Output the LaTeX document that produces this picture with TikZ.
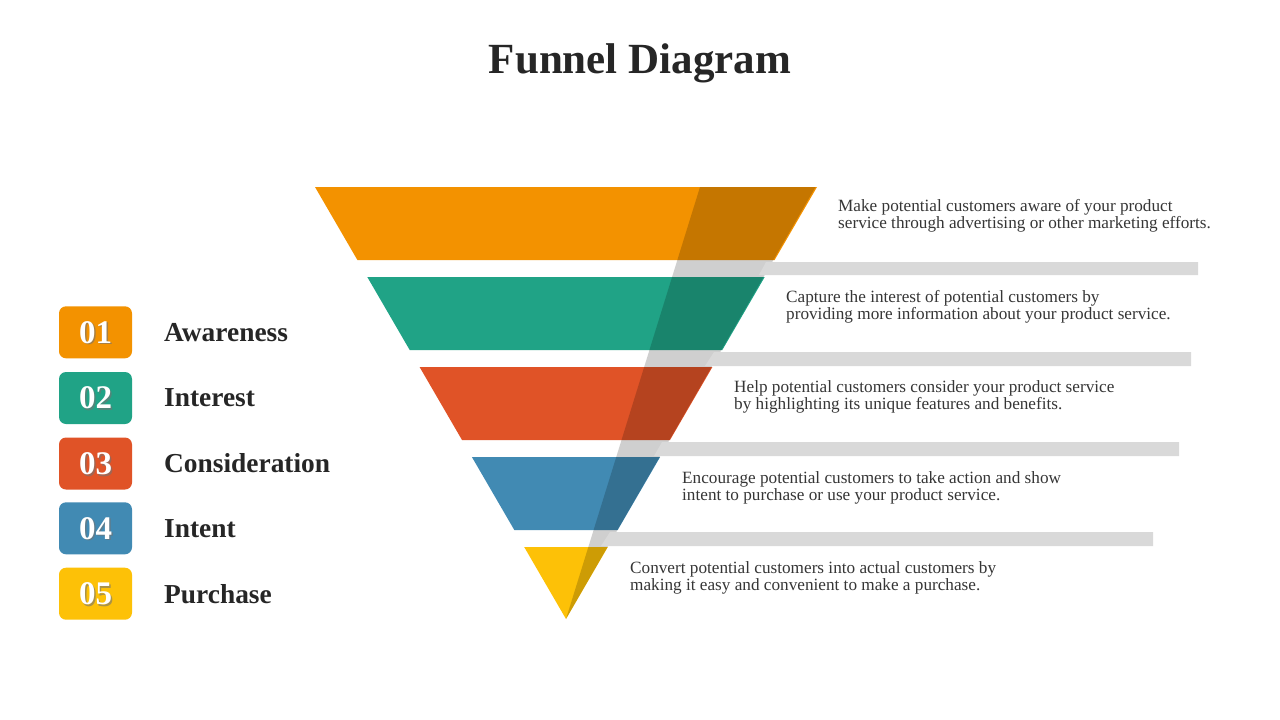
\documentclass[tikz,border=0pt]{standalone}
\usepackage{fontspec}
\setmainfont{Liberation Serif}
\usetikzlibrary{calc}
\definecolor{cOrange}{HTML}{F39200}
\definecolor{cTeal}{HTML}{20A386}
\definecolor{cRed}{HTML}{E05327}
\definecolor{cBlue}{HTML}{418AB3}
\definecolor{cYellow}{HTML}{FDC107}
\definecolor{cBar}{HTML}{D9D9D9}
\definecolor{cText}{HTML}{262626}
\definecolor{cDesc}{HTML}{363636}
\tikzset{
  badge/.style={rounded corners=7pt, minimum width=73pt, minimum height=52pt, inner sep=0pt},
  numtxt/.style={text=white, font=\fontsize{33}{33}\selectfont\bfseries, inner sep=0pt},
  numshadow/.style={text=black!55, font=\fontsize{33}{33}\selectfont\bfseries, inner sep=0pt, opacity=0.6},
  label/.style={anchor=west, text=cText, font=\fontsize{27.4}{27.4}\selectfont\bfseries, inner sep=0pt},
  desc/.style={anchor=west, align=left, text=cDesc, font=\fontsize{17.2}{17}\selectfont, inner sep=0pt},
  bar/.style={fill=cBar},
  overlay/.style={fill=black, fill opacity=0.19}
}
\begin{document}
\begin{tikzpicture}[x=1pt,y=-1pt]
\useasboundingbox (0,0) rectangle (1280,720);
\fill[white] (0,0) rectangle (1280,720);
% title
\node[text=cText, font=\fontsize{43}{43}\selectfont\bfseries] (title) at (640,63.5) {Funnel Diagram};
% funnel bands
\fill[cOrange] (315,187) -- (817,187) -- (774.6,260) -- (357.4,260) -- cycle;
\fill[cTeal] (367.3,277) -- (764.7,277) -- (722.3,350) -- (409.7,350) -- cycle;
\fill[cRed] (419.6,367) -- (712.4,367) -- (670.0,440) -- (462.0,440) -- cycle;
\fill[cBlue] (471.9,457) -- (660.1,457) -- (617.7,530) -- (514.3,530) -- cycle;
\fill[cYellow] (524.2,547) -- (607.8,547) -- (566,619) -- cycle;
% dark translucent strip
\fill[overlay] (700,187) -- (815.5,187) -- (566,619) -- cycle;
% gray bars
\fill[bar] (766,262) -- (1198,262) -- (1198,275) -- (759,275) -- cycle;
\fill[bar] (714,352) -- (1191,352) -- (1191,366) -- (705,366) -- cycle;
\fill[bar] (662,442) -- (1179,442) -- (1179,456) -- (654,456) -- cycle;
\fill[bar] (610,532) -- (1153,532) -- (1153,546) -- (601,546) -- cycle;
% descriptions
\node[desc] (d1) at (838,215.5) {Make potential customers aware of your product\\service through advertising or other marketing efforts.};
\node[desc] (d2) at (786,306.5) {Capture the interest of potential customers by\\providing more information about your product service.};
\node[desc] (d3) at (734,396.5) {Help potential customers consider your product service\\by highlighting its unique features and benefits.};
\node[desc] (d4) at (682,487.5) {Encourage potential customers to take action and show\\intent to purchase or use your product service.};
\node[desc] (d5) at (630,577.5) {Convert potential customers into actual customers by\\making it easy and convenient to make a purchase.};
% badges
\foreach \n/\c/\y/\t in {1/cOrange/332.3/Awareness, 2/cTeal/398/Interest, 3/cRed/463.5/Consideration, 4/cBlue/528.3/Intent, 5/cYellow/593.7/Purchase}{
  \node[badge, fill=\c] (b\n) at (95.5,\y) {};
  \node[numshadow] (s\n) at ($(b\n.center)+(1.5,1.8)$) {0\n};
  \node[numtxt] (n\n) at (b\n.center) {0\n};
  \node[label] (l\n) at (164,\y) {\t};
}
\end{tikzpicture}
\end{document}
